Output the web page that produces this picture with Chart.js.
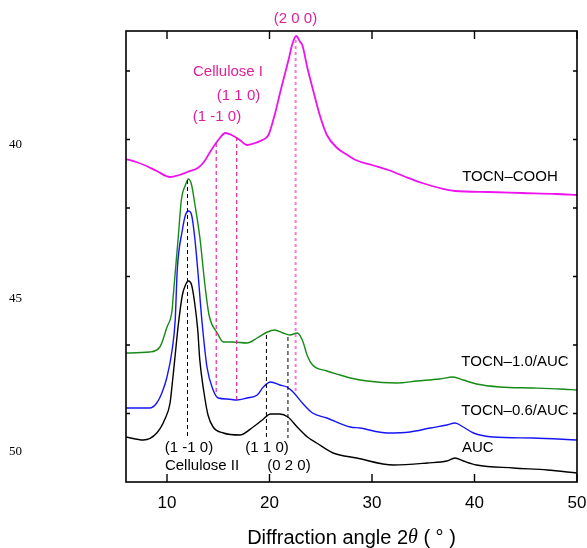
<!DOCTYPE html>
<html>
<head>
<meta charset="utf-8">
<script src="https://cdn.jsdelivr.net/npm/chart.js@4.4.1/dist/chart.umd.min.js"></script>
<style>
  html, body { margin: 0; padding: 0; background: #fff; }
  #wrap { width: 587px; height: 548px; }
</style>
</head>
<body>
<div id="wrap"><canvas id="xrd"></canvas></div>
<script>
// XRD patterns, [2theta, intensity (a.u., offset stacked)]
const tocnCooh = [
    [6.0, 323], [7.0, 320], [8.0, 316], [9.0, 311], [10.3, 305], [11.2, 307],
    [12.0, 310], [13.0, 314], [13.6, 320], [14.2, 330], [15.0, 342], [15.7, 349],
    [16.3, 347], [17.1, 342], [17.8, 337], [18.6, 339], [19.3, 342], [19.9, 347],
    [20.5, 367], [21.1, 392], [21.4, 404], [21.9, 424], [22.2, 437], [22.6, 446],
    [23.0, 440], [23.2, 437], [23.7, 414], [24.3, 390], [24.9, 367], [25.6, 347],
    [26.6, 334], [27.6, 327], [28.4, 322], [30.0, 317], [31.6, 312], [33.3, 305],
    [34.9, 299], [36.6, 294], [38.1, 291], [41.4, 290], [44.6, 289], [48.0, 288],
    [50.0, 287]
];
const tocn10Auc = [
    [6.0, 129], [8.3, 130], [9.3, 135], [10.0, 155], [10.5, 172], [10.6, 185],
    [11.1, 245], [11.4, 282], [11.8, 297], [12.1, 303], [12.4, 297], [12.7, 279],
    [13.2, 245], [13.7, 197], [14.1, 167], [14.9, 149], [15.5, 140], [16.4, 140],
    [17.8, 139], [18.8, 144], [19.8, 150], [20.5, 152], [21.3, 149], [22.0, 147],
    [22.7, 149], [23.2, 142], [23.7, 126], [24.2, 117], [25.6, 111], [26.9, 107],
    [27.9, 104], [29.5, 101], [32.4, 99], [34.4, 101], [36.6, 103], [37.9, 105],
    [38.9, 102], [40.2, 98], [42.5, 95], [45.7, 94], [48.3, 93], [50.0, 92]
];
const tocn06Auc = [
    [6.0, 74], [8.3, 74], [9.0, 79], [9.5, 89], [10.0, 105], [10.5, 132],
    [10.8, 162], [11.0, 212], [11.5, 252], [11.8, 267], [12.1, 271], [12.4, 267],
    [12.7, 245], [13.0, 212], [13.4, 162], [13.9, 115], [14.5, 92], [15.0, 84],
    [15.9, 83], [16.8, 82], [17.8, 84], [18.8, 87], [19.4, 95], [20.1, 100],
    [21.0, 97], [21.7, 95], [22.3, 90], [23.2, 79], [24.2, 69], [25.6, 64],
    [27.9, 55], [28.8, 54], [31.5, 49], [33.7, 50], [35.7, 54], [37.3, 57],
    [38.1, 59], [38.9, 55], [39.9, 49], [41.8, 45], [45.7, 44], [50.0, 42]
];
const auc = [
    [6.0, 45], [7.7, 42], [9.0, 49], [9.8, 63], [10.3, 79], [10.5, 97],
    [10.8, 127], [11.1, 157], [11.5, 187], [11.8, 197], [12.1, 201], [12.4, 197],
    [12.7, 179], [13.0, 152], [13.2, 122], [13.6, 90], [14.0, 67], [14.5, 55],
    [15.5, 49], [17.1, 47], [18.4, 55], [19.3, 62], [20.1, 68], [21.0, 68],
    [21.8, 65], [22.7, 55], [23.7, 45], [24.6, 39], [26.2, 29], [28.5, 24],
    [32.1, 17], [35.4, 19], [37.3, 21], [38.1, 24], [38.9, 21], [40.2, 17],
    [43.8, 14], [47.1, 12], [50.0, 9]
];

// peak markers: [2theta, top, bottom]
const cellulose2Lines = [[12.0, 302, 44], [19.7, 147, 45], [21.8, 145, 44]];
const cellulose1Lines = [[14.8, 339, 90], [16.8, 345, 80]];
const peak200Line = [22.55, 442, 89];

const xTicks = [10, 20, 30, 40, 50];
const yTicks = [68.5, 137, 205.5, 274, 342.5, 411];

const toPoints = arr => arr.map(p => ({ x: p[0], y: p[1] }));

function curve(data, color, width) {
    return {
        data: toPoints(data),
        borderColor: color,
        borderWidth: width,
        pointRadius: 0,
        showLine: true,
        cubicInterpolationMode: 'monotone',
    };
}

function marker(line, color, width, dash) {
    return {
        data: [{ x: line[0], y: line[1] }, { x: line[0], y: line[2] }],
        borderColor: color,
        borderWidth: width,
        borderDash: dash,
        pointRadius: 0,
        showLine: true,
    };
}

const datasets = [];
cellulose2Lines.forEach(l => datasets.push(marker(l, '#000', 1, [4, 3])));
cellulose1Lines.forEach(l => datasets.push(marker(l, '#e3169c', 1.1, [4, 3])));
datasets.push(marker(peak200Line, '#f07ccf', 2, [3, 3]));
datasets.push(curve(auc, '#000000', 1.4));
datasets.push(curve(tocn06Auc, '#1515f5', 1.4));
datasets.push(curve(tocn10Auc, '#168a16', 1.4));
datasets.push(curve(tocnCooh, '#ee12ee', 1.8));

const SANS = '"Liberation Sans", Arial, sans-serif';

// labels in data coordinates
const annotations = [
    { t: '(2 0 0)', x: 22.54, y: 463, c: '#e0209a', a: 'center' },
    { t: 'Cellulose I', x: 15.95, y: 410, c: '#e0209a', a: 'center' },
    { t: '(1 1 0)', x: 16.98, y: 386, c: '#e0209a', a: 'center' },
    { t: '(1 -1 0)', x: 14.88, y: 365, c: '#e0209a', a: 'center' },
    { t: 'TOCN\u2013COOH', x: 43.46, y: 305, c: '#000', a: 'center' },
    { t: 'TOCN\u20131.0/AUC', x: 43.95, y: 120, c: '#000', a: 'center' },
    { t: 'TOCN\u20130.6/AUC', x: 43.95, y: 71, c: '#000', a: 'center' },
    { t: 'AUC', x: 38.78, y: 34, c: '#000', a: 'left' },
    { t: '(1 -1 0)', x: 12.15, y: 34, c: '#000', a: 'center' },
    { t: 'Cellulose II', x: 9.8, y: 16, c: '#000', a: 'left' },
    { t: '(1 1 0)', x: 19.76, y: 34, c: '#000', a: 'center' },
    { t: '(0 2 0)', x: 21.9, y: 16, c: '#000', a: 'center' },
];

const framePlugin = {
    id: 'frame',
    afterDraw(chart) {
        const ctx = chart.ctx;
        const area = chart.chartArea;
        const xs = chart.scales.x;
        const ys = chart.scales.y;
        ctx.save();

        // frame
        ctx.strokeStyle = '#000';
        ctx.lineWidth = 1.6;
        ctx.strokeRect(area.left, area.top, area.right - area.left, area.bottom - area.top);

        // inward ticks
        ctx.lineWidth = 1.4;
        ctx.beginPath();
        xTicks.forEach(v => {
            const px = xs.getPixelForValue(v);
            ctx.moveTo(px, area.bottom);
            ctx.lineTo(px, area.bottom - 8);
            ctx.moveTo(px, area.top);
            ctx.lineTo(px, area.top + 8);
        });
        yTicks.forEach(v => {
            const py = ys.getPixelForValue(v);
            ctx.moveTo(area.left, py);
            ctx.lineTo(area.left + 4, py);
            ctx.moveTo(area.right, py);
            ctx.lineTo(area.right - 4, py);
        });
        ctx.stroke();

        // annotations
        ctx.font = '15px ' + SANS;
        ctx.textBaseline = 'middle';
        annotations.forEach(a => {
            ctx.fillStyle = a.c;
            ctx.textAlign = a.a;
            ctx.fillText(a.t, xs.getPixelForValue(a.x), ys.getPixelForValue(a.y));
        });

        // axis title with italic theta
        const parts = [
            { s: 'Diffraction angle 2', f: '20px ' + SANS },
            { s: '\u03b8', f: 'italic 20px "Liberation Serif", "Times New Roman", serif' },
            { s: ' ( \u00b0 )', f: '20px ' + SANS },
        ];
        let total = 0;
        parts.forEach(p => { ctx.font = p.f; p.w = ctx.measureText(p.s).width; total += p.w; });
        let cx = (area.left + area.right) / 2 - total / 2;
        ctx.fillStyle = '#000';
        ctx.textAlign = 'left';
        parts.forEach(p => { ctx.font = p.f; ctx.fillText(p.s, cx, 538); cx += p.w; });

        // line numbers from the page margin
        ctx.font = '13px "Liberation Serif", "Times New Roman", serif';
        ctx.fillText('40', 9, 145);
        ctx.fillText('45', 9, 299);
        ctx.fillText('50', 9, 452);

        ctx.restore();
    }
};

new Chart(document.getElementById('xrd'), {
    type: 'scatter',
    data: { datasets },
    options: {
        responsive: true,
        maintainAspectRatio: false,
        animation: false,
        events: [],
        layout: { padding: { left: 126, right: 10, top: 31, bottom: 0 } },
        plugins: { legend: { display: false }, tooltip: { enabled: false } },
        scales: {
            x: {
                type: 'linear',
                min: 6,
                max: 50,
                grid: { display: false, drawTicks: false },
                border: { display: false },
                afterBuildTicks: s => { s.ticks = xTicks.map(v => ({ value: v })); },
                afterFit: s => { s.height = 66; s.paddingLeft = 0; s.paddingRight = 0; },
                ticks: { color: '#000', padding: 11, maxRotation: 0, font: { size: 17, family: SANS } },
            },
            y: {
                type: 'linear',
                min: 0,
                max: 451,
                display: false,
                afterBuildTicks: s => { s.ticks = yTicks.map(v => ({ value: v })); },
            }
        }
    },
    plugins: [framePlugin]
});
</script>
</body>
</html>
